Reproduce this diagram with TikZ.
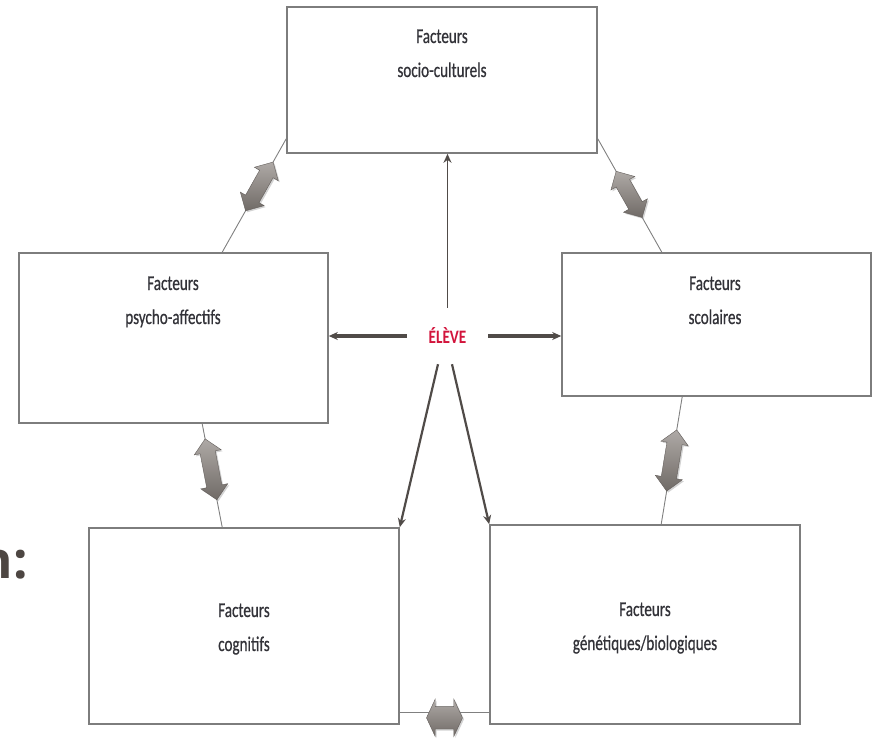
\documentclass[tikz,border=0pt]{standalone}
\usepackage{fontspec}
\setmainfont{Carlito}
\newfontfamily\lblfont[FakeStretch=0.72,FakeBold=0.6]{Carlito}
\newfontfamily\elfont[FakeStretch=0.8]{Carlito}
\newfontfamily\headfont{Open Sans}
\usetikzlibrary{arrows.meta,shapes.arrows,shadows}
\definecolor{boxgray}{RGB}{125,125,125}
\definecolor{txtgray}{RGB}{50,50,56}
\definecolor{elred}{RGB}{210,20,60}
\definecolor{arrgray}{RGB}{80,75,72}
\definecolor{fatgray}{RGB}{140,133,128}
\definecolor{headgray}{RGB}{77,70,66}
\begin{document}
\begin{tikzpicture}[x=1pt,y=-1pt,
 box/.style={draw=boxgray, line width=1.6pt, fill=white, inner sep=0pt},
 lbl/.style={font=\lblfont\fontsize{21}{25}\selectfont, text=txtgray, inner sep=0pt, anchor=base},
 link/.style={draw=gray, line width=0.9pt},
 ray/.style={draw=arrgray, -{Stealth[length=9pt,width=8pt]}},
 fat/.style={double arrow, top color=fatgray!70, bottom color=fatgray!80!black,
   draw=fatgray!70!black, line width=0.4pt,
   inner sep=7.5pt, double arrow head extend=6pt,
   drop shadow={opacity=0.35, shadow xshift=1.5pt, shadow yshift=-1.5pt}}
]
\useasboundingbox (0,0) rectangle (873,739);

% boxes
\node[box, minimum width=310pt, minimum height=146pt] (top) at (442,80) {};
\node[box, minimum width=309pt, minimum height=170pt] (left) at (173.5,338) {};
\node[box, minimum width=309pt, minimum height=143pt] (right) at (716.5,324.5) {};
\node[box, minimum width=310pt, minimum height=196pt] (bl) at (244,626) {};
\node[box, minimum width=310pt, minimum height=199pt] (br) at (645,624.5) {};

% labels
\node[lbl] (t1) at (442,43) {Facteurs};
\node[lbl] (t2) at (442,77) {socio-culturels};
\node[lbl] (l1) at (173,290) {Facteurs};
\node[lbl] (l2) at (173,324) {psycho-affectifs};
\node[lbl] (r1) at (715,290) {Facteurs};
\node[lbl] (r2) at (715,324) {scolaires};
\node[lbl] (c1) at (244,617) {Facteurs};
\node[lbl] (c2) at (244,651) {cognitifs};
\node[lbl] (g1) at (645,616) {Facteurs};
\node[lbl] (g2) at (645,650) {génétiques/biologiques};

% centre
\node[minimum width=81pt, minimum height=56pt, inner sep=0pt,
      font=\elfont\bfseries\fontsize{19}{23}\selectfont, text=elred] (el) at (447.5,336) {ÉLÈVE};

\draw[ray, line width=1.8pt] (el.north) -- (el.north |- top.south);
\draw[ray, line width=3.2pt] (el.west) -- (el.west -| left.east);
\draw[ray, line width=3.2pt] (el.east) -- (el.east -| right.west);
\draw[ray, line width=2.2pt] ([xshift=-9.5pt]el.south) -- (bl.north east);
\draw[ray, line width=2.2pt] ([xshift=4.5pt]el.south) -- (br.north west);

% links with fat double arrows
\draw[link] ([yshift=15pt]top.south west) -- ([xshift=204pt]left.north west)
  node[fat, pos=0.42, sloped, minimum height=56pt] (a1) {};
\draw[link] ([yshift=15pt]top.south east) -- ([xshift=-210pt]right.north east)
  node[fat, pos=0.49, sloped, minimum height=53pt] (a2) {};
\draw[link] ([xshift=184pt]left.south west) -- ([xshift=134pt]bl.north west)
  node[fat, pos=0.44, sloped, minimum height=62pt] (a3) {};
\draw[link] ([xshift=121pt]right.south west) -- ([xshift=172pt]br.north west)
  node[fat, pos=0.5, sloped, minimum height=62pt] (a4) {};
\draw[link] ([yshift=12pt]bl.south east) -- ([yshift=12pt]br.south west)
  node[fat, pos=0.5, yshift=-5pt, minimum height=36pt, inner sep=11pt,
       double arrow head extend=7.5pt, double arrow tip angle=130] (a5) {};

% cropped heading fragment
\node[font=\headfont\bfseries\fontsize{51}{60}\selectfont, text=headgray,
      anchor=base east, inner sep=0pt] (hd) at (28,578) {n:};
\end{tikzpicture}
\end{document}
